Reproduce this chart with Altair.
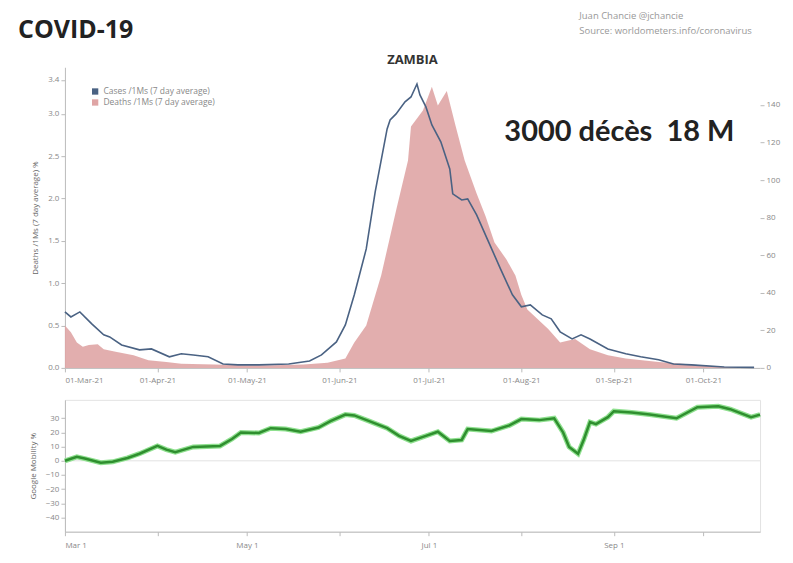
import altair as alt
import pandas as pd

# ---------------- text ----------------
TITLE = "COVID-19"
COUNTRY = "ZAMBIA"
HEADLINE = "3000 décès\u00a0\u00a018 M"
CREDIT_1 = "Juan Chancie @jchancie"
CREDIT_2 = "Source: worldometers.info/coronavirus"
CASES_LABEL = "Cases /1Ms (7 day average)"
DEATHS_LABEL = "Deaths /1Ms (7 day average)"
LEFT_TITLE = "Deaths /1Ms (7 day average) %"
MOB_TITLE = "Google Mobility %"

# ---------------- data ----------------
case_dates = ["2021-03-01", "2021-03-03", "2021-03-06", "2021-03-10", "2021-03-14", "2021-03-16",
              "2021-03-20", "2021-03-26", "2021-03-30", "2021-04-05", "2021-04-09", "2021-04-13",
              "2021-04-18", "2021-04-23", "2021-04-28", "2021-05-05", "2021-05-15", "2021-05-22",
              "2021-05-26", "2021-05-31", "2021-06-03", "2021-06-06", "2021-06-10", "2021-06-13",
              "2021-06-17", "2021-06-18", "2021-06-20", "2021-06-23", "2021-06-25", "2021-06-27",
              "2021-06-28", "2021-06-30", "2021-07-02", "2021-07-05", "2021-07-08", "2021-07-09",
              "2021-07-12", "2021-07-14", "2021-07-17", "2021-07-21", "2021-07-25", "2021-07-29",
              "2021-08-01", "2021-08-04", "2021-08-08", "2021-08-11", "2021-08-14", "2021-08-18",
              "2021-08-21", "2021-08-24", "2021-08-30", "2021-09-05", "2021-09-10", "2021-09-16",
              "2021-09-21", "2021-09-27", "2021-10-08", "2021-10-18"]
case_values = [29.8, 27.1, 29.8, 23.4, 17.6, 16.5,
               12.2, 9.6, 10.1, 5.9, 7.5, 6.9,
               5.9, 2.1, 1.6, 1.6, 2.1, 3.7,
               6.9, 13.8, 22.9, 38.9, 63.3, 93.7,
               127.2, 132.0, 135.2, 141.6, 144.2, 151.1,
               145.3, 138.9, 129.3, 120.3, 105.9, 92.6,
               89.4, 89.9, 81.4, 67.1, 52.7, 38.9,
               32.5, 33.5, 28.2, 26.1, 19.2, 15.4,
               17.6, 15.4, 10.1, 7.5, 5.9, 4.3,
               2.1, 1.6, 0.5, 0.3]

death_dates = ["2021-03-01", "2021-03-03", "2021-03-05", "2021-03-07", "2021-03-09", "2021-03-12",
               "2021-03-14", "2021-03-18", "2021-03-24", "2021-03-29", "2021-04-04", "2021-04-09",
               "2021-04-20", "2021-04-30", "2021-05-10", "2021-05-20", "2021-05-28", "2021-06-03",
               "2021-06-06", "2021-06-10", "2021-06-15", "2021-06-20", "2021-06-24", "2021-06-25",
               "2021-06-29", "2021-07-02", "2021-07-04", "2021-07-07", "2021-07-10", "2021-07-13",
               "2021-07-17", "2021-07-20", "2021-07-23", "2021-07-27", "2021-07-30", "2021-08-01",
               "2021-08-03", "2021-08-10", "2021-08-14", "2021-08-19", "2021-08-24", "2021-08-30",
               "2021-09-05", "2021-09-16", "2021-09-27", "2021-10-08", "2021-10-18"]
death_values = [0.50, 0.42, 0.30, 0.25, 0.27, 0.28,
                0.22, 0.19, 0.15, 0.09, 0.07, 0.05,
                0.04, 0.03, 0.03, 0.04, 0.06, 0.11,
                0.30, 0.50, 1.09, 1.86, 2.45, 2.85,
                3.04, 3.32, 3.10, 3.27, 2.85, 2.45,
                2.06, 1.79, 1.48, 1.28, 1.09, 0.86,
                0.69, 0.46, 0.30, 0.34, 0.22, 0.15,
                0.11, 0.07, 0.04, 0.01, 0.01]

mob_dates = ["2021-03-01", "2021-03-05", "2021-03-08", "2021-03-13", "2021-03-17", "2021-03-22",
             "2021-03-26", "2021-04-01", "2021-04-04", "2021-04-07", "2021-04-13", "2021-04-22",
             "2021-04-26", "2021-04-29", "2021-05-05", "2021-05-09", "2021-05-14", "2021-05-19",
             "2021-05-25", "2021-05-29", "2021-06-03", "2021-06-06", "2021-06-11", "2021-06-17",
             "2021-06-21", "2021-06-25", "2021-06-30", "2021-07-04", "2021-07-08", "2021-07-12",
             "2021-07-14", "2021-07-22", "2021-07-28", "2021-08-01", "2021-08-07", "2021-08-12",
             "2021-08-15", "2021-08-17", "2021-08-20", "2021-08-22", "2021-08-24", "2021-08-26",
             "2021-08-30", "2021-09-01", "2021-09-07", "2021-09-13", "2021-09-22", "2021-09-29",
             "2021-10-06", "2021-10-10", "2021-10-17", "2021-10-20"]
mob_values = [0.0, 2.8, 1.4, -1.4, -0.7, 2.0,
              5.0, 10.5, 7.9, 6.1, 9.8, 10.5,
              15.4, 20.0, 19.6, 23.0, 22.4, 20.5,
              23.5, 28.0, 32.6, 32.0, 28.0, 23.0,
              17.6, 14.0, 17.6, 20.5, 14.0, 14.7,
              22.4, 21.0, 25.0, 29.4, 28.7, 30.0,
              20.0, 9.8, 4.9, 15.4, 27.3, 25.9,
              30.8, 35.0, 34.0, 32.6, 30.0, 37.8,
              38.5, 36.4, 30.8, 32.6]
mob_zero = [0]

death_ticks = [0.0, 0.5, 1.0, 1.5, 2.0, 2.5, 3.0, 3.4]
case_ticks = [0, 20, 40, 60, 80, 100, 120, 140]
mob_ticks = [-40, -30, -20, -10, 0, 10, 20, 30]
tick_months = [3, 4, 5, 6, 7, 8, 9, 10]

# ---------------- styles ----------------
BLUE = "#4a6283"
PINK = "#dfa5a5"
GREEN_DARK = "#2f8f2f"
GREEN_LIGHT = "#8fe08f"
FONT = "Open Sans"

cases_df = pd.DataFrame({"date": pd.to_datetime(case_dates), "value": case_values})
deaths_df = pd.DataFrame({"date": pd.to_datetime(death_dates), "value": death_values,
                          "series": DEATHS_LABEL})
mob_df = pd.DataFrame({"date": pd.to_datetime(mob_dates), "value": mob_values})
zero_df = pd.DataFrame({"value": mob_zero})

x_domain = [alt.DateTime(year=2021, month=3, date=1), alt.DateTime(year=2021, month=10, date=20)]
month_vals = [alt.DateTime(year=2021, month=m, date=1) for m in tick_months]

axis_common = dict(labelFontSize=8, labelColor="#888", labelFont=FONT, tickColor="#bbb",
                   domainColor="#bbb", tickSize=4, grid=False, titleFontSize=8,
                   titleColor="#666", titleFont=FONT, titleFontWeight="normal")

x_main = alt.X("date:T", scale=alt.Scale(domain=x_domain), title=None,
               axis=alt.Axis(values=month_vals, format="%d-%b-%y", labelPadding=5, **axis_common))

deaths_layer = alt.Chart(deaths_df).mark_area(opacity=0.9, interpolate="linear").encode(
    x=x_main,
    y=alt.Y("value:Q", scale=alt.Scale(domain=[0, 3.55], nice=False), title=LEFT_TITLE,
            axis=alt.Axis(orient="left", values=death_ticks, format=".1f", titlePadding=8,
                          **axis_common)),
    color=alt.Color("series:N",
                    scale=alt.Scale(domain=[CASES_LABEL, DEATHS_LABEL], range=[BLUE, PINK]),
                    legend=alt.Legend(title=None, orient="none", legendX=26, legendY=20,
                                      symbolType="square", symbolSize=40, symbolOpacity=1,
                                      labelFontSize=8.5, labelColor="#888", labelFont=FONT,
                                      rowPadding=2, symbolStrokeWidth=0)),
)

cases_layer = alt.Chart(cases_df).mark_line(color=BLUE, strokeWidth=1.6).encode(
    x=x_main,
    y=alt.Y("value:Q", scale=alt.Scale(domain=[0, 160], nice=False), title=None,
            axis=alt.Axis(orient="right", values=case_ticks, domain=False, **axis_common)),
)


def text_layer(txt, x, y, size, weight="normal", color="#222", align="left", font=FONT):
    return alt.Chart(pd.DataFrame({"t": [txt]})).mark_text(
        align=align, baseline="middle", fontSize=size, fontWeight=weight, color=color, font=font
    ).encode(text="t:N", x=alt.value(x), y=alt.value(y))


annotations = [
    text_layer(TITLE, -47, -37, 25, "bold", "#222"),
    text_layer(CREDIT_1, 515, -51, 9.5, "normal", "#999"),
    text_layer(CREDIT_2, 515, -36, 9.5, "normal", "#999"),
    text_layer(COUNTRY, 348, -7, 13, "bold", "#333", "center"),
    text_layer(HEADLINE, 440, 65, 29, "bold", "#222", "left", "Lato"),
]

main = alt.layer(deaths_layer, cases_layer, *annotations).resolve_scale(
    y="independent"
).properties(width=696, height=301)

x_mob = alt.X("date:T", scale=alt.Scale(domain=x_domain), title=None,
              axis=alt.Axis(values=month_vals, labelPadding=6,
                            labelExpr="month(datum.value) % 2 == 0 ? timeFormat(datum.value, '%b %-d') : ''",
                            **axis_common))
y_mob = alt.Y("value:Q", scale=alt.Scale(domain=[-50, 43], nice=False), title=MOB_TITLE,
              axis=alt.Axis(values=mob_ticks, titlePadding=8, **axis_common))

zero_rule = alt.Chart(zero_df).mark_rule(color="#e3e3e3", strokeWidth=1).encode(y=y_mob)
mob_glow = alt.Chart(mob_df).mark_line(color=GREEN_LIGHT, strokeWidth=5).encode(x=x_mob, y=y_mob)
mob_line = alt.Chart(mob_df).mark_line(color=GREEN_DARK, strokeWidth=2.5).encode(x=x_mob, y=y_mob)

mobility = alt.layer(zero_rule, mob_glow, mob_line).properties(
    width=696, height=132, view=alt.ViewBackground(stroke="#e3e3e3"))

chart = alt.vconcat(main, mobility, spacing=10).properties(
    padding={"left": 10, "top": 3, "right": 5, "bottom": 5}
).configure_view(stroke=None)

chart.save("out.html", embed_options={"renderer": "svg", "actions": False})
